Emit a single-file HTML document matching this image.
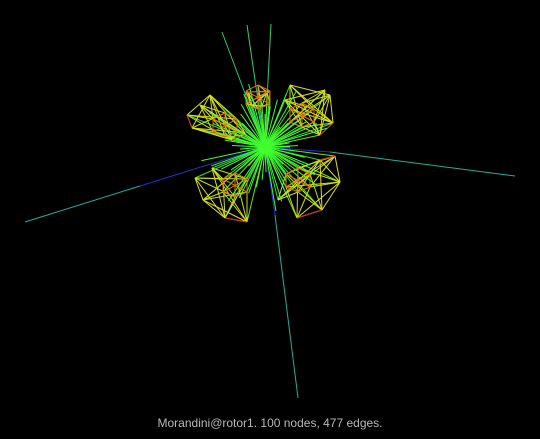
<!DOCTYPE html>
<html><head><meta charset="utf-8"><style>
html,body{margin:0;padding:0;background:#000;}
#wrap{position:relative;width:540px;height:439px;background:#000;overflow:hidden;}
#cap{position:absolute;left:0;width:540px;top:416px;text-align:center;color:#b8b8b8;font:12px "Liberation Sans",sans-serif;}
</style></head><body>
<div id="wrap">
<svg id="g" width="540" height="439"></svg>
<div id="cap">Morandini@rotor1. 100 nodes, 477 edges.</div>
</div>
<script>
const hub=[265,147];
// cluster cores (orange meshes)
const coreX=[225,258,302,235,298];
const coreY=[125,97,115,185,180];
// outer tip nodes and the core each belongs to
const tipX=[187,192,210,232,246,200, 248,267,252,262, 290,330,333,320,285,325, 195,203,225,247,212, 297,322,340,320,335,278];
const tipY=[115,128,95,140,135,105, 92,92,106,106, 85,95,123,135,100,90, 178,200,218,222,168, 218,210,182,160,156,200];
const tipCore=[0,0,0,0,0,0, 1,1,1,1, 2,2,2,2,2,2, 3,3,3,3,3, 4,4,4,4,4,4];
// long spokes
const spokeVX=[140,330,275,240,255,268];
const spokeVY=[186,152,215,80,80,80];
const spokeEX=[25,515,298,222,247,271];
const spokeEY=[222,176,398,32,25,24];
const svg=document.getElementById('g');
const NS='http://www.w3.org/2000/svg';
function line(a,b,col,name,w){
 const l=document.createElementNS(NS,'line');
 l.setAttribute('x1',a[0]);l.setAttribute('y1',a[1]);l.setAttribute('x2',b[0]);l.setAttribute('y2',b[1]);
 l.setAttribute('stroke',col);l.setAttribute('stroke-width',w||'1');
 
 
 svg.appendChild(l);
}
for(let i=0;i<spokeVX.length;i++){
 const v=[spokeVX[i],spokeVY[i]],e=[spokeEX[i],spokeEY[i]];
 line(hub,v,i<3?'#2030d0':'#20c080','spoke-edge');
 line(v,e,i<3?'#20b0a0':'#30d070','spoke-edge');
}
const coreNodes=[];
const ring=[[-12,-6],[0,-12],[12,-6],[12,7],[0,12],[-12,7]];
for(let c=0;c<coreX.length;c++){
 coreNodes.push(ring.map(o=>[coreX[c]+o[0],coreY[c]+o[1]]));
}
const tips=tipX.map((x,i)=>[x,tipY[i]]);
tips.forEach((t,i)=>{line(hub,t,i%2?'#60e820':'#30e030','hub-edge');});
coreNodes.forEach(cn=>cn.forEach((q,k)=>line(hub,q,k%2?'#50f020':'#30e030','hub-edge')));
tips.forEach((t,i)=>{
 const cn=coreNodes[tipCore[i]];
 cn.forEach((q,k)=>{ if((k+i)%2==0) line(t,q,'#c8e020','petal-edge'); });
 for(let j=i+1;j<tips.length;j++){ if(tipCore[j]==tipCore[i] && (j-i)<=2) line(t,tips[j],'#e0e020','petal-edge'); }
});
coreNodes.forEach(cn=>{
 for(let k=0;k<cn.length;k++) for(let j=k+1;j<cn.length;j++) if((k+j)%2==1||j==k+1) line(cn[k],cn[j],'#e07010','core-edge');
});
tips.forEach((t,i)=>{ if(i+1<tips.length && tipCore[i+1]==tipCore[i] && i%3==0) line(t,tips[i+1],'#d03010','tip-edge'); });
for(let t=0;t<50;t++){
 const a=t*7.3*Math.PI/180, rr=25+(t%6)*8;
 line(hub,[hub[0]+rr*Math.cos(a),hub[1]+rr*Math.sin(a)],'#40ff30','hub-edge');
}
</script>
</body></html>
